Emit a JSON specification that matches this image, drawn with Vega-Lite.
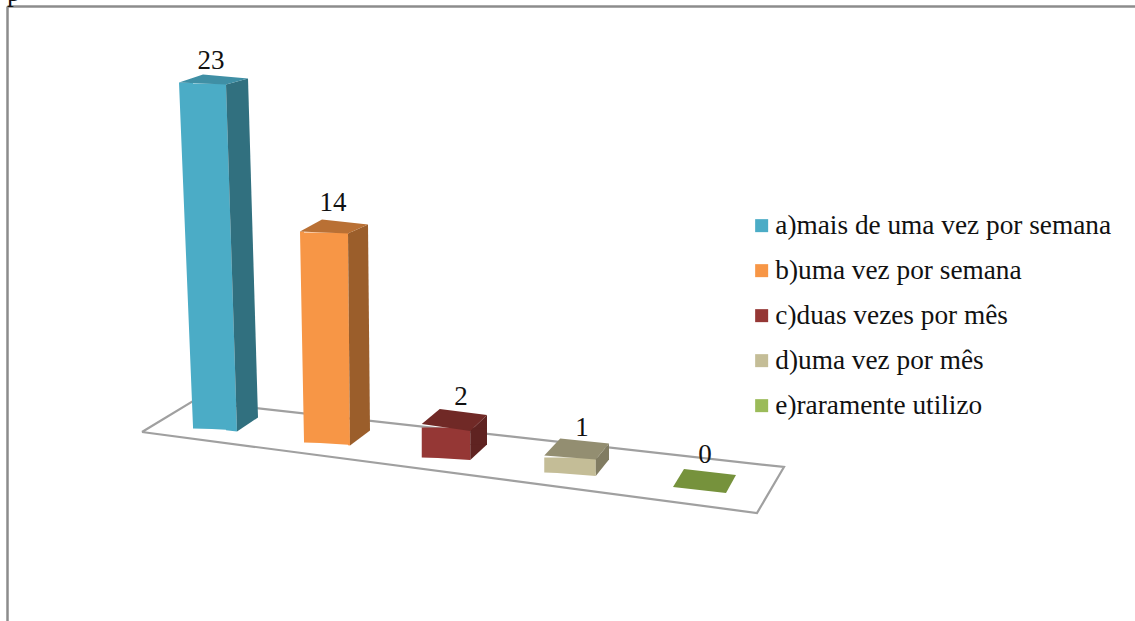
{
  "$schema": "https://vega.github.io/schema/vega-lite/v6.json",
  "width": 1128,
  "height": 615,
  "padding": {"left": 7, "top": 6, "right": 0, "bottom": 0},
  "autosize": "none",
  "background": "white",
  "config": {"view": {"stroke": null}},
  "data": {"name": "respostas", "values": [
    {"ordem": 1, "categoria": "a)mais de uma vez por semana", "valor": 23},
    {"ordem": 2, "categoria": "b)uma vez por semana", "valor": 14},
    {"ordem": 3, "categoria": "c)duas vezes por mês", "valor": 2},
    {"ordem": 4, "categoria": "d)uma vez por mês", "valor": 1},
    {"ordem": 5, "categoria": "e)raramente utilizo", "valor": 0}
  ]},
  "encoding": {
    "x": {"field": "ordem", "type": "quantitative",
      "scale": {"domain": [0, 1, 2, 3, 4, 5, 6], "range": [0, 201.75, 318.5, 439, 563, 692.5, 1128]},
      "axis": {"orient": "top", "title": null, "labels": false, "ticks": false, "grid": false, "domainColor": "#8C8C8C", "domainWidth": 2.5}}
  },
  "layer": [
    {"data": {"values": [
        {"vertice": 1, "lado": 0.669, "nivel": -0.233},
        {"vertice": 2, "lado": 0.922, "nivel": 1.833},
        {"vertice": 3, "lado": 5.194, "nivel": -2.567},
        {"vertice": 4, "lado": 5.132, "nivel": -5.633},
        {"vertice": 5, "lado": 0.669, "nivel": -0.233}
      ]},
      "mark": {"type": "line", "color": "#A0A0A0", "strokeWidth": 2.2, "strokeJoin": "miter"},
      "encoding": {
        "order": {"field": "vertice", "type": "quantitative"},
        "x": {"field": "lado", "type": "quantitative"},
        "y": {"field": "nivel", "type": "quantitative", "scale": {"domain": [-12.833, 28.167], "nice": false, "zero": false},
          "axis": {"orient": "left", "title": null, "labels": false, "ticks": false, "grid": false, "domainColor": "#8C8C8C", "domainWidth": 2.5}}
      }},

    {"transform": [{"filter": "datum.ordem == 1"}],
      "mark": {"type": "tick", "orient": "vertical", "thickness": 33, "xOffset": 0.75, "opacity": 1, "yOffset": 0},
      "encoding": {
        "y": {"field": "valor", "type": "quantitative", "scale": {"domain": [-25.667, 56.333], "nice": false, "zero": false}, "axis": null},
        "size": {"field": "valor", "type": "quantitative", "scale": {"domain": [0, 23], "range": [0, 345]}, "legend": null},
        "color": {"field": "categoria", "type": "nominal",
          "scale": {"domain": ["a)mais de uma vez por semana", "b)uma vez por semana", "c)duas vezes por mês", "d)uma vez por mês", "e)raramente utilizo"], "range": ["#4BACC6", "#F79646", "#953735", "#C4BD97", "#9BBB59"]},
          "legend": {"orient": "none", "legendX": 741, "legendY": 206, "title": null, "symbolType": "square", "symbolSize": 169, "symbolStrokeWidth": 0, "symbolOpacity": 1, "labelFont": "Liberation Serif", "labelFontSize": 27.3, "labelColor": "#111111", "labelOffset": 0, "rowPadding": 17, "labelLimit": 400, "padding": 0}}
      }},
    {"transform": [{"filter": "datum.ordem == 1"}],
      "mark": {"type": "point", "filled": true, "opacity": 1, "size": 4, "strokeWidth": 0, "color": "#4BACC6", "yOffset": 0, "shape": "M-29.75,-1 L-15.75,-0.5 L-15.75,343 Z M17.25,0 L28.25,348 L17.25,346.8 Z"},
      "encoding": {"y": {"field": "valor", "type": "quantitative", "scale": {"domain": [-12.833, 28.167], "nice": false, "zero": false}, "axis": null}}},
    {"transform": [{"filter": "datum.ordem == 1"}],
      "mark": {"type": "tick", "orient": "vertical", "thickness": 11, "xOffset": 33.75, "opacity": 1, "color": "#31707F", "yOffset": 0},
      "encoding": {
        "y": {"field": "valor", "type": "quantitative", "scale": {"domain": [-26.5, 55.5], "nice": false, "zero": false}, "axis": null},
        "size": {"field": "valor", "type": "quantitative", "scale": {"domain": [0, 23], "range": [-12.5, 332.5]}, "legend": null}
      }},
    {"transform": [{"filter": "datum.ordem == 1"}],
      "mark": {"type": "point", "filled": true, "opacity": 1, "size": 4, "strokeWidth": 0, "color": "#31707F", "yOffset": 0, "shape": "M17.25,1 L39.25,-5 L49.25,334 L28.25,348 Z"},
      "encoding": {"y": {"field": "valor", "type": "quantitative", "scale": {"domain": [-12.833, 28.167], "nice": false, "zero": false}, "axis": null}}},
    {"transform": [{"filter": "datum.ordem == 1"}],
      "mark": {"type": "point", "filled": true, "opacity": 1, "size": 4, "strokeWidth": 0, "color": "#4BACC6", "yOffset": 0, "shape": "M-15.75,-0.5 L17.25,-0.5 L17.25,1.3 Z"},
      "encoding": {"y": {"datum": 0, "type": "quantitative", "scale": {"domain": [-12.833, 28.167], "nice": false, "zero": false}, "axis": null}}},
    {"transform": [{"filter": "datum.ordem == 1"}],
      "mark": {"type": "point", "filled": true, "opacity": 1, "size": 4, "strokeWidth": 0, "color": "#3F8FA5", "yOffset": 0, "shape": "M-29.75,-1 L17.25,1 L39.25,-5 L-5.75,-9 Z"},
      "encoding": {"y": {"field": "valor", "type": "quantitative", "scale": {"domain": [-12.833, 28.167], "nice": false, "zero": false}, "axis": null}}},
    {"transform": [{"filter": "datum.ordem == 1"}],
      "mark": {"type": "text", "font": "Liberation Serif", "fontSize": 27, "color": "#111111", "baseline": "alphabetic", "align": "center", "xOffset": 2.25, "yOffset": -15},
      "encoding": {"y": {"field": "valor", "type": "quantitative", "scale": {"domain": [-12.833, 28.167], "nice": false, "zero": false}, "axis": null}, "text": {"field": "valor", "type": "quantitative"}}},

    {"transform": [{"filter": "datum.ordem == 2"}],
      "mark": {"type": "tick", "orient": "vertical", "thickness": 44, "xOffset": 0.5, "opacity": 1, "yOffset": 14},
      "encoding": {
        "y": {"field": "valor", "type": "quantitative", "scale": {"domain": [-25.667, 56.333], "nice": false, "zero": false}, "axis": null},
        "size": {"field": "valor", "type": "quantitative", "scale": {"domain": [0, 23], "range": [0, 345]}, "legend": null},
        "color": {"field": "categoria", "type": "nominal"}
      }},
    {"transform": [{"filter": "datum.ordem == 2"}],
      "mark": {"type": "point", "filled": true, "opacity": 1, "size": 4, "strokeWidth": 0, "color": "#F79646", "yOffset": 14, "shape": "M-25.5,-1 L-21.5,-1 L-21.5,208 Z M22.5,0 L24.5,213 L22.5,212.8 Z"},
      "encoding": {"y": {"field": "valor", "type": "quantitative", "scale": {"domain": [-12.833, 28.167], "nice": false, "zero": false}, "axis": null}}},
    {"transform": [{"filter": "datum.ordem == 2"}],
      "mark": {"type": "tick", "orient": "vertical", "thickness": 18, "xOffset": 33.5, "opacity": 1, "color": "#9B5E2B", "yOffset": 14},
      "encoding": {
        "y": {"field": "valor", "type": "quantitative", "scale": {"domain": [-26.5, 55.5], "nice": false, "zero": false}, "axis": null},
        "size": {"field": "valor", "type": "quantitative", "scale": {"domain": [0, 23], "range": [-12.5, 332.5]}, "legend": null}
      }},
    {"transform": [{"filter": "datum.ordem == 2"}],
      "mark": {"type": "point", "filled": true, "opacity": 1, "size": 4, "strokeWidth": 0, "color": "#9B5E2B", "yOffset": 14, "shape": "M22.5,1 L42.5,-8 L44.5,198 L24.5,213 Z"},
      "encoding": {"y": {"field": "valor", "type": "quantitative", "scale": {"domain": [-12.833, 28.167], "nice": false, "zero": false}, "axis": null}}},
    {"transform": [{"filter": "datum.ordem == 2"}],
      "mark": {"type": "point", "filled": true, "opacity": 1, "size": 4, "strokeWidth": 0, "color": "#F79646", "yOffset": 14, "shape": "M-21.5,-0.5 L22.5,-0.5 L22.5,2.3 Z"},
      "encoding": {"y": {"datum": 0, "type": "quantitative", "scale": {"domain": [-12.833, 28.167], "nice": false, "zero": false}, "axis": null}}},
    {"transform": [{"filter": "datum.ordem == 2"}],
      "mark": {"type": "point", "filled": true, "opacity": 1, "size": 4, "strokeWidth": 0, "color": "#B97034", "yOffset": 14, "shape": "M-25.5,-1 L22.5,1 L42.5,-8 L-3.5,-13 Z"},
      "encoding": {"y": {"field": "valor", "type": "quantitative", "scale": {"domain": [-12.833, 28.167], "nice": false, "zero": false}, "axis": null}}},
    {"transform": [{"filter": "datum.ordem == 2"}],
      "mark": {"type": "text", "font": "Liberation Serif", "fontSize": 27, "color": "#111111", "baseline": "alphabetic", "align": "center", "xOffset": 7.5, "yOffset": -8},
      "encoding": {"y": {"field": "valor", "type": "quantitative", "scale": {"domain": [-12.833, 28.167], "nice": false, "zero": false}, "axis": null}, "text": {"field": "valor", "type": "quantitative"}}},

    {"transform": [{"filter": "datum.ordem == 3"}],
      "mark": {"type": "tick", "orient": "vertical", "thickness": 48.5, "opacity": 1, "yOffset": 29},
      "encoding": {
        "y": {"field": "valor", "type": "quantitative", "scale": {"domain": [-25.667, 56.333], "nice": false, "zero": false}, "axis": null},
        "size": {"field": "valor", "type": "quantitative", "scale": {"domain": [0, 23], "range": [0, 345]}, "legend": null},
        "color": {"field": "categoria", "type": "nominal"}
      }},
    {"transform": [{"filter": "datum.ordem == 3"}],
      "mark": {"type": "tick", "orient": "vertical", "thickness": 16.75, "xOffset": 32.625, "opacity": 1, "color": "#5F2321", "yOffset": 29},
      "encoding": {
        "y": {"field": "valor", "type": "quantitative", "scale": {"domain": [-26.5, 55.5], "nice": false, "zero": false}, "axis": null},
        "size": {"field": "valor", "type": "quantitative", "scale": {"domain": [0, 23], "range": [-12.5, 332.5]}, "legend": null}
      }},
    {"transform": [{"filter": "datum.ordem == 3"}],
      "mark": {"type": "point", "filled": true, "opacity": 1, "size": 4, "strokeWidth": 0, "color": "#5F2321", "yOffset": 29, "shape": "M24.25,3.5 L41,-12.5 L41,1 L24.25,1 Z"},
      "encoding": {"y": {"field": "valor", "type": "quantitative", "scale": {"domain": [-12.833, 28.167], "nice": false, "zero": false}, "axis": null}}},
    {"transform": [{"filter": "datum.ordem == 3"}],
      "mark": {"type": "point", "filled": true, "opacity": 1, "size": 4, "strokeWidth": 0, "color": "#5F2321", "yOffset": 29, "shape": "M24.25,-13 L41,-13 L24.25,2.5 Z"},
      "encoding": {"y": {"datum": 0, "type": "quantitative", "scale": {"domain": [-12.833, 28.167], "nice": false, "zero": false}, "axis": null}}},
    {"transform": [{"filter": "datum.ordem == 3"}],
      "mark": {"type": "point", "filled": true, "opacity": 1, "size": 4, "strokeWidth": 0, "color": "#953735", "yOffset": 29, "shape": "M-24.25,-0.5 L24.25,-0.5 L24.25,2.5 Z"},
      "encoding": {"y": {"datum": 0, "type": "quantitative", "scale": {"domain": [-12.833, 28.167], "nice": false, "zero": false}, "axis": null}}},
    {"transform": [{"filter": "datum.ordem == 3"}],
      "mark": {"type": "point", "filled": true, "opacity": 1, "size": 4, "strokeWidth": 0, "color": "#702926", "yOffset": 29, "shape": "M-24.25,-3.5 L24.25,3.5 L41,-12.5 L-6.25,-18.5 Z"},
      "encoding": {"y": {"field": "valor", "type": "quantitative", "scale": {"domain": [-12.833, 28.167], "nice": false, "zero": false}, "axis": null}}},
    {"transform": [{"filter": "datum.ordem == 3"}],
      "mark": {"type": "text", "font": "Liberation Serif", "fontSize": 27, "color": "#111111", "baseline": "alphabetic", "align": "center", "xOffset": 15, "yOffset": 6.5},
      "encoding": {"y": {"field": "valor", "type": "quantitative", "scale": {"domain": [-12.833, 28.167], "nice": false, "zero": false}, "axis": null}, "text": {"field": "valor", "type": "quantitative"}}},

    {"transform": [{"filter": "datum.ordem == 4"}],
      "mark": {"type": "tick", "orient": "vertical", "thickness": 51.5, "opacity": 1, "yOffset": 44},
      "encoding": {
        "y": {"field": "valor", "type": "quantitative", "scale": {"domain": [-25.667, 56.333], "nice": false, "zero": false}, "axis": null},
        "size": {"field": "valor", "type": "quantitative", "scale": {"domain": [0, 23], "range": [0, 345]}, "legend": null},
        "color": {"field": "categoria", "type": "nominal"}
      }},
    {"transform": [{"filter": "datum.ordem == 4"}],
      "mark": {"type": "tick", "orient": "vertical", "thickness": 13.25, "xOffset": 32.375, "opacity": 1, "color": "#817C62", "yOffset": 44},
      "encoding": {
        "y": {"field": "valor", "type": "quantitative", "scale": {"domain": [-26.5, 55.5], "nice": false, "zero": false}, "axis": null},
        "size": {"field": "valor", "type": "quantitative", "scale": {"domain": [0, 23], "range": [-12.5, 332.5]}, "legend": null}
      }},
    {"transform": [{"filter": "datum.ordem == 4"}],
      "mark": {"type": "point", "filled": true, "opacity": 1, "size": 4, "strokeWidth": 0, "color": "#817C62", "yOffset": 44, "shape": "M25.75,2 L39,-14 L39,1 L25.75,1 Z"},
      "encoding": {"y": {"field": "valor", "type": "quantitative", "scale": {"domain": [-12.833, 28.167], "nice": false, "zero": false}, "axis": null}}},
    {"transform": [{"filter": "datum.ordem == 4"}],
      "mark": {"type": "point", "filled": true, "opacity": 1, "size": 4, "strokeWidth": 0, "color": "#817C62", "yOffset": 44, "shape": "M25.75,-13 L39,-13 L25.75,3.5 Z"},
      "encoding": {"y": {"datum": 0, "type": "quantitative", "scale": {"domain": [-12.833, 28.167], "nice": false, "zero": false}, "axis": null}}},
    {"transform": [{"filter": "datum.ordem == 4"}],
      "mark": {"type": "point", "filled": true, "opacity": 1, "size": 4, "strokeWidth": 0, "color": "#C4BD97", "yOffset": 44, "shape": "M-25.75,-0.5 L25.75,-0.5 L25.75,3.5 Z"},
      "encoding": {"y": {"datum": 0, "type": "quantitative", "scale": {"domain": [-12.833, 28.167], "nice": false, "zero": false}, "axis": null}}},
    {"transform": [{"filter": "datum.ordem == 4"}],
      "mark": {"type": "point", "filled": true, "opacity": 1, "size": 4, "strokeWidth": 0, "color": "#938E71", "yOffset": 44, "shape": "M-25.75,-2 L25.75,2 L39,-14 L-9.75,-19 Z"},
      "encoding": {"y": {"field": "valor", "type": "quantitative", "scale": {"domain": [-12.833, 28.167], "nice": false, "zero": false}, "axis": null}}},
    {"transform": [{"filter": "datum.ordem == 4"}],
      "mark": {"type": "text", "font": "Liberation Serif", "fontSize": 27, "color": "#111111", "baseline": "alphabetic", "align": "center", "xOffset": 12, "yOffset": 22},
      "encoding": {"y": {"field": "valor", "type": "quantitative", "scale": {"domain": [-12.833, 28.167], "nice": false, "zero": false}, "axis": null}, "text": {"field": "valor", "type": "quantitative"}}},

    {"transform": [{"filter": "datum.ordem == 5"}],
      "mark": {"type": "point", "filled": true, "opacity": 1, "size": 4, "strokeWidth": 0, "color": "#76923C", "yOffset": 61.5, "shape": "M-26.5,-3 L26.5,3 L36.5,-15 L-15.5,-21 Z"},
      "encoding": {"y": {"field": "valor", "type": "quantitative", "scale": {"domain": [-12.833, 28.167], "nice": false, "zero": false}, "axis": null}}},
    {"transform": [{"filter": "datum.ordem == 5"}],
      "mark": {"type": "text", "font": "Liberation Serif", "fontSize": 27, "color": "#111111", "baseline": "alphabetic", "align": "center", "xOffset": 5.5, "yOffset": 34.5},
      "encoding": {"y": {"field": "valor", "type": "quantitative", "scale": {"domain": [-12.833, 28.167], "nice": false, "zero": false}, "axis": null}, "text": {"field": "valor", "type": "quantitative"}}},

    {"data": {"values": [{"letra": "p", "lado": 0, "nivel": 28.5}]},
      "mark": {"type": "text", "font": "Liberation Serif", "fontSize": 27, "color": "#111111", "baseline": "alphabetic", "align": "left"},
      "encoding": {
        "x": {"field": "lado", "type": "quantitative"},
        "y": {"field": "nivel", "type": "quantitative", "scale": {"domain": [-12.833, 28.167], "nice": false, "zero": false}, "axis": null},
        "text": {"field": "letra", "type": "nominal"}
      }}
  ],
  "resolve": {"scale": {"y": "independent", "size": "independent"}, "axis": {"y": "independent"}}
}
